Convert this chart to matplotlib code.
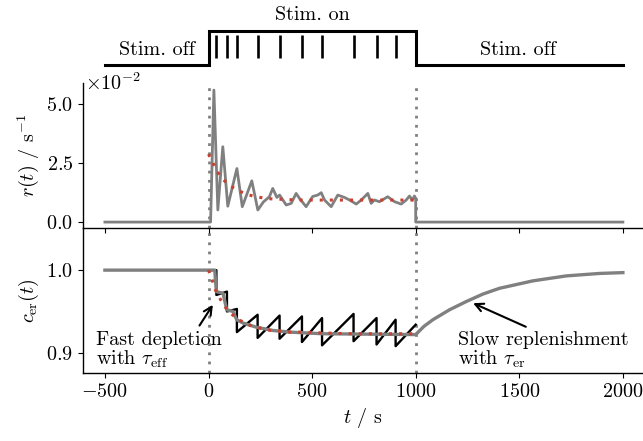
import numpy as np
import matplotlib
matplotlib.use("Agg")
import matplotlib.pyplot as plt

plt.rcParams["font.family"] = "serif"
plt.rcParams["font.serif"] = ["cmr10"]
plt.rcParams["mathtext.fontset"] = "cm"
plt.rcParams["axes.formatter.use_mathtext"] = True
plt.rcParams["font.size"] = 14.5
plt.rcParams["axes.linewidth"] = 1.0

# stimulus protocol
stim_t = [-500, 0, 0, 1000, 1000, 2000]
stim_level = [0, 0, 1, 1, 0, 0]
spike_t = [38, 89, 137, 237, 343, 451, 548, 700, 811, 903]

# firing rate r(t) in units of 1e-2 / s
r_t = [-500, 0, 10, 26, 45, 69, 93, 137, 163, 209, 238, 265, 294, 310, 330,
       343, 375, 399, 423, 439, 471, 503, 527, 544, 560, 592, 624, 656, 681,
       713, 737, 761, 769, 785, 801, 825, 865, 898, 930, 954, 970, 983, 994,
       1000, 1000, 2000]
r_val = [0, 0, 0, 5.57, 0.51, 3.18, 0.67, 2.26, 0.65, 1.74, 0.51, 0.85, 1.07,
         1.42, 1.04, 1.14, 0.72, 0.79, 1.21, 1.00, 0.65, 1.08, 1.14, 1.24,
         0.93, 0.65, 1.14, 1.04, 0.93, 0.76, 0.93, 1.14, 1.21, 0.79, 0.93,
         0.86, 1.07, 0.86, 0.76, 0.93, 1.10, 0.93, 1.10, 1.00, 0, 0]
r_mean_t = [0, 21, 40, 66, 101, 141, 182, 222, 270, 314, 359, 404, 447, 600,
            800, 1000]
r_mean = [2.87, 2.50, 2.16, 1.83, 1.55, 1.34, 1.18, 1.08, 1.01, 0.97, 0.96,
          0.94, 0.93, 0.93, 0.93, 0.93]

# ER calcium c_er(t)
saw_t = [0, 38, 38, 89, 89, 137, 137, 237, 237, 343, 343, 451, 451, 548, 548,
         700, 700, 811, 811, 903, 903, 1000]
saw_c = [1.0, 1.0, 0.970, 0.974, 0.950, 0.953, 0.925, 0.946, 0.918, 0.945,
         0.917, 0.944, 0.913, 0.942, 0.909, 0.947, 0.914, 0.942, 0.910, 0.940,
         0.908, 0.934]
cer_t = [-500, 30, 38, 70, 88, 118, 136, 166, 230, 310, 391, 552, 1000, 1040,
         1083, 1163, 1244, 1324, 1404, 1565, 1726, 1887, 2000]
cer_c = [1.0, 1.0, 0.974, 0.972, 0.952, 0.950, 0.940, 0.936, 0.931, 0.927,
         0.925, 0.923, 0.922, 0.932, 0.940, 0.952, 0.962, 0.971, 0.978, 0.987,
         0.993, 0.996, 0.997]
cer_mean_t = [0, 18, 29, 50, 72, 101, 134, 174, 214, 262, 302, 351, 391, 439,
              550, 700, 850, 1000]
cer_mean = [1.0, 0.988, 0.978, 0.968, 0.958, 0.949, 0.942, 0.936, 0.932, 0.929,
            0.927, 0.926, 0.925, 0.925, 0.924, 0.923, 0.923, 0.923]

grey = "#808080"
red = "#c8402e"
xlim = (-606, 2097)

fig = plt.figure(figsize=(6.43, 4.41), dpi=100)
ax0 = fig.add_axes([0.129, 1 - 75 / 441, 0.871, 75 / 441])
ax2 = fig.add_axes([0.129, 1 - 373 / 441, 0.871, 145 / 441])
ax1 = fig.add_axes([0.129, 1 - 228 / 441, 0.871, 145 / 441], sharex=ax2)
ax1.patch.set_visible(False)
ax2.patch.set_visible(False)

# top: stimulus
ax0.plot(stim_t, stim_level, color="black", lw=2.2, solid_joinstyle="miter")
ax0.vlines(spike_t, 0.2, 0.87, color="black", lw=1.9)
ax0.text(-250, 0.44, "Stim. off", ha="center", va="center")
ax0.text(1495, 0.44, "Stim. off", ha="center", va="center")
ax0.text(500, 1.47, "Stim. on", ha="center", va="center")
ax0.set_xlim(xlim)
ax0.set_ylim(-0.29, 1.91)
ax0.axis("off")

# middle: rate
ax1.plot(r_t, np.array(r_val) * 1e-2, color=grey, lw=2.0)
ax1.plot(r_mean_t, np.array(r_mean) * 1e-2, color=red, lw=2.2,
         dashes=(1, 2.3))
ax1.set_ylim(-0.0025, 0.0587)
ax1.set_yticks([0, 0.025, 0.05])
ax1.ticklabel_format(axis="y", style="sci", scilimits=(-2, -2))
ax1.yaxis.get_offset_text().set_visible(False)
ax1.text(0.004, 0.995, r"$\times10^{-2}$", transform=ax1.transAxes,
         ha="left", va="center")
ax1.set_ylabel(r"$r(t)$ / s$^{\mathrm{-1}}$")
ax1.spines["top"].set_visible(False)
ax1.spines["right"].set_visible(False)
ax1.tick_params(axis="x", labelbottom=False)

# bottom: ER calcium
ax2.plot(saw_t, saw_c, color="black", lw=1.7)
ax2.plot(cer_t, cer_c, color=grey, lw=2.4)
ax2.plot(cer_mean_t, cer_mean, color=red, lw=2.2, dashes=(1, 2.3))
ax2.set_ylim(0.8755, 1.051)
ax2.set_yticks([0.9, 1.0])
ax2.set_ylabel(r"$c_{\mathrm{er}}(t)$")
ax2.set_xlabel(r"$t$ / s")
ax2.set_xticks([-500, 0, 500, 1000, 1500, 2000])
ax2.set_xlim(xlim)
ax2.spines["top"].set_visible(False)
ax2.spines["right"].set_visible(False)

for ax in (ax1, ax2):
    for tv in (0, 1000):
        ax.axvline(tv, color=grey, lw=2.0, dashes=(1, 2.3), zorder=0)

ax2.annotate("Fast depletion\nwith $\\tau_{\\mathrm{eff}}$", xy=(21, 0.958),
             xytext=(-545, 0.879), ha="left", va="bottom", linespacing=1.0,
             arrowprops=dict(arrowstyle="->", color="black", lw=1.5,
                             shrinkA=2, shrinkB=0, relpos=(0.8, 1.0)))
ax2.annotate("Slow replenishment\nwith $\\tau_{\\mathrm{er}}$", xy=(1277, 0.960),
             xytext=(1203, 0.879), ha="left", va="bottom", linespacing=1.0,
             arrowprops=dict(arrowstyle="->", color="black", lw=1.5,
                             shrinkA=2, shrinkB=0, relpos=(0.45, 1.0)))

fig.align_ylabels([ax1, ax2])
fig.savefig("out.png", dpi=100)
